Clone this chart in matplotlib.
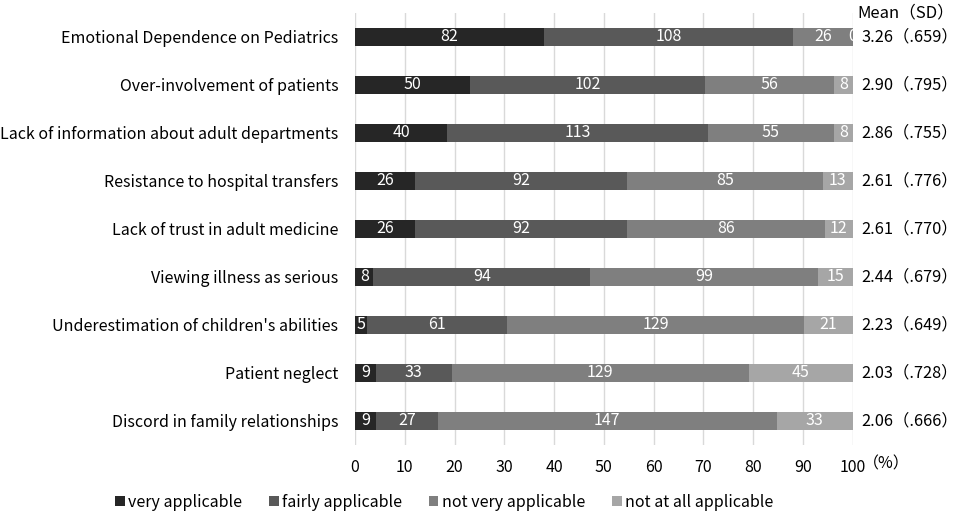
import matplotlib
matplotlib.use('Agg')
import matplotlib.pyplot as plt
import numpy as np

plt.rcParams['font.family'] = ['Noto Sans CJK JP', 'DejaVu Sans']

categories = ['Emotional Dependence on Pediatrics', 'Over-involvement of patients',
              'Lack of information about adult departments', 'Resistance to hospital transfers',
              'Lack of trust in adult medicine', 'Viewing illness as serious',
              "Underestimation of children's abilities", 'Patient neglect',
              'Discord in family relationships']
very = [82, 50, 40, 26, 26, 8, 5, 9, 9]
fairly = [108, 102, 113, 92, 92, 94, 61, 33, 27]
not_very = [26, 56, 55, 85, 86, 99, 129, 129, 147]
not_at_all = [0, 8, 8, 13, 12, 15, 21, 45, 33]
means = ['3.26（.659）', '2.90（.795）', '2.86（.755）', '2.61（.776）', '2.61（.770）',
         '2.44（.679）', '2.23（.649）', '2.03（.728）', '2.06（.666）']
series_names = ['very applicable', 'fairly applicable', 'not very applicable', 'not at all applicable']
colors = ['#262626', '#595959', '#7f7f7f', '#a6a6a6']

counts = np.array([very, fairly, not_very, not_at_all], dtype=float)
totals = counts.sum(axis=0)
pct = counts / totals * 100

fig = plt.figure(figsize=(9.57, 5.15), dpi=100)
ax = fig.add_axes([0.371, 0.136, 0.52, 0.839])
y = np.arange(len(categories))
left = np.zeros(len(categories))
for k in range(4):
    ax.barh(y, pct[k], left=left, height=0.39, color=colors[k], label=series_names[k], zorder=2)
    for i in range(len(categories)):
        ax.text(left[i] + pct[k][i] / 2, y[i], str(int(counts[k][i])), color='white',
                ha='center', va='center', fontsize=11.5, zorder=3, clip_on=True)
    left += pct[k]

ax.set_xlim(0, 100)
ax.set_ylim(8.5, -0.5)
ax.set_yticks(y)
ax.set_yticklabels(categories, fontsize=11.5)
ax.set_xticks(np.arange(0, 101, 10))
ax.tick_params(axis='x', labelsize=11.5, length=0, pad=10)
ax.tick_params(axis='y', length=0, pad=12)
ax.grid(axis='x', color='#d9d9d9', linewidth=1, zorder=0)
for s in ax.spines.values():
    s.set_visible(False)

for i in range(len(categories)):
    ax.text(1.018, y[i], means[i], transform=ax.get_yaxis_transform(), ha='left', va='center', fontsize=11.8)
ax.text(1.01, -0.5, 'Mean（SD）', transform=ax.get_yaxis_transform(), ha='left', va='center', fontsize=12)
fig.text(0.902, 0.099, '（%）', ha='left', va='center', fontsize=11.5)

fig.legend(loc='center', bbox_to_anchor=(0.464, 0.025), ncol=4, frameon=False, fontsize=11.5,
           handlelength=0.6, handleheight=0.6, handletextpad=0.2, columnspacing=1.7)

fig.savefig('out.png', dpi=100)
